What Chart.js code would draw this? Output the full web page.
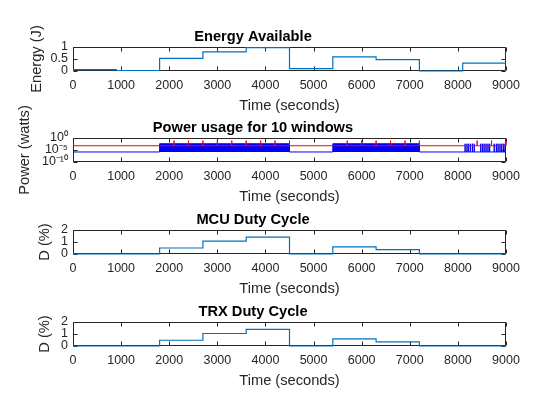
<!DOCTYPE html>
<html>
<head>
<meta charset="utf-8">
<title>Energy and duty cycle</title>
<script src="https://cdn.jsdelivr.net/npm/chart.js@4/dist/chart.umd.min.js"></script>
<style>
  html, body { margin: 0; padding: 0; background: #fff; }
  #figure { position: relative; width: 560px; height: 420px; overflow: hidden; }
  #figure canvas { position: absolute; left: 0; }
</style>
</head>
<body>
<div id="figure">
  <canvas id="energy" width="560" height="115"></canvas>
  <canvas id="power" width="560" height="115"></canvas>
  <canvas id="mcu" width="560" height="115"></canvas>
  <canvas id="trx" width="560" height="115"></canvas>
</div>
<script>
// valeurs (10 fenêtres de 900 s)
const windowStarts = [0, 900, 1800, 2700, 3600, 4500, 5400, 6300, 7200, 8100];
const timeEnd = 9000;
const timeTicks = [0, 1000, 2000, 3000, 4000, 5000, 6000, 7000, 8000, 9000];

const energyAvailable = [0.06, 0.02, 0.53, 0.8, 0.97, 0.1, 0.59, 0.47, 0, 0.33];
const mcuDuty = [0, 0, 0.5, 1.07, 1.41, 0, 0.59, 0.37, 0, 0];
const trxDuty = [0, 0, 0.48, 1.04, 1.39, 0, 0.59, 0.35, 0, 0];

const energyTicks = [0, 0.5, 1];
const dutyTicks = [0, 1, 2];
const powerTicks = [1e-10, 1e-5, 1];
const powerTickLabels = ['10⁻¹⁰', '10⁻⁵', '10⁰'];

// puissance consommée (bleu) et seuil (rouge)
const powerIdle = 1.5e-6;
const powerActive = 4e-3;
const activeWindows = [[1800, 4500], [5400, 7200]];
const burstTimes = [8150, 8190, 8225, 8265, 8305, 8340, 8475, 8510, 8545, 8585, 8625, 8660,
                    8755, 8800, 8835, 8875, 8910, 8945, 8980];
const powerLimit = 6e-4;
const limitPeak = 0.08;
const limitPeakTimes = [2100, 2400, 2700, 3000, 3300, 3600, 3900, 4200, 4500,
                        5700, 6000, 6300, 6600, 6900, 7200, 8400, 8700, 9000];

const boxTops = { energy: 47, power: 138, mcu: 230, trx: 322 };
const font = '"Liberation Sans", Arial, Helvetica, sans-serif';
const axisColor = '#262626';
const lineBlue = '#0072BD';

const stairs = (values) => {
    let pts = windowStarts.map((t, i) => ({ x: t, y: values[i] }));
    pts.push({ x: timeEnd, y: values[values.length - 1] });
    return pts;
}

const powerPoints = () => {
    let pts = [{ x: 0, y: powerIdle }];
    activeWindows.forEach(([s, e]) => {
        pts.push({ x: s, y: powerIdle }, { x: s, y: powerActive },
                 { x: e, y: powerActive }, { x: e, y: powerIdle });
    });
    burstTimes.forEach(t => {
        pts.push({ x: t, y: powerIdle }, { x: t, y: powerActive }, { x: t, y: powerIdle });
    });
    pts.push({ x: timeEnd, y: powerIdle });
    return pts;
}

const limitPoints = () => {
    let pts = [{ x: 0, y: powerLimit }];
    limitPeakTimes.forEach(t => {
        pts.push({ x: t, y: powerLimit }, { x: t, y: limitPeak }, { x: t, y: powerLimit });
    });
    pts.push({ x: timeEnd, y: powerLimit });
    return pts;
}

// cadre + graduations vers l'intérieur, comme MATLAB
const matlabAxes = {
    id: 'matlabAxes',
    beforeDatasetsDraw(chart) {
        const { ctx, chartArea: a, scales: { x, y } } = chart;
        const len = 4;
        const l = Math.round(a.left) + 0.5, r = Math.round(a.right) - 0.5;
        const t = Math.round(a.top) + 0.5, b = Math.round(a.bottom) - 0.5;
        ctx.save();
        ctx.strokeStyle = axisColor;
        ctx.lineWidth = 1;
        ctx.beginPath();
        x.ticks.forEach(tk => {
            const px = Math.round(x.getPixelForValue(tk.value)) + 0.5;
            ctx.moveTo(px, b); ctx.lineTo(px, b - len);
            ctx.moveTo(px, t); ctx.lineTo(px, t + len);
        });
        y.ticks.forEach(tk => {
            const py = Math.round(y.getPixelForValue(tk.value)) + 0.5;
            ctx.moveTo(l, py); ctx.lineTo(l + len, py);
            ctx.moveTo(r, py); ctx.lineTo(r - len, py);
        });
        ctx.rect(l, t, r - l, b - t);
        ctx.stroke();
        ctx.restore();
    }
};

const makeChart = (id, cfg) => {
    let el = document.querySelector('#' + id);
    el.style.top = (boxTops[id] - 45) + 'px';
    return new Chart(el, {
        type: 'line',
        data: { datasets: cfg.datasets },
        plugins: [matlabAxes],
        options: {
            responsive: false,
            animation: false,
            events: [],
            layout: { padding: { top: 24.4, bottom: 1, left: 0, right: 54 } },
            plugins: {
                legend: { display: false },
                tooltip: { enabled: false },
                title: {
                    display: true,
                    text: cfg.title,
                    color: '#000',
                    font: { family: font, size: 14.67, weight: 'bold', lineHeight: 1.2 },
                    padding: { top: 2, bottom: 1 }
                }
            },
            scales: {
                x: {
                    type: 'linear',
                    min: 0,
                    max: timeEnd,
                    grid: { display: false, drawTicks: false },
                    border: { display: false },
                    afterBuildTicks: (s) => { s.ticks = timeTicks.map(v => ({ value: v })); },
                    afterFit: (s) => { s.height = 45; },
                    ticks: {
                        color: axisColor,
                        padding: 7,
                        maxRotation: 0,
                        autoSkip: false,
                        font: { family: font, size: 12.5 },
                        callback: (v) => String(v)
                    },
                    title: {
                        display: true,
                        text: 'Time (seconds)',
                        color: axisColor,
                        font: { family: font, size: 14.67, lineHeight: 1.2 },
                        padding: { top: 0, bottom: 1 }
                    }
                },
                y: {
                    type: cfg.log ? 'logarithmic' : 'linear',
                    min: cfg.ticks[0],
                    max: cfg.ticks[cfg.ticks.length - 1],
                    grid: { display: false, drawTicks: false },
                    border: { display: false },
                    afterBuildTicks: (s) => { s.ticks = cfg.ticks.map(v => ({ value: v })); },
                    afterFit: (s) => { s.width = 73; },
                    ticks: {
                        color: axisColor,
                        padding: 5,
                        autoSkip: false,
                        font: { family: font, size: 12.5 },
                        callback: (v) => cfg.labels ? cfg.labels[cfg.ticks.indexOf(v)] : String(v)
                    },
                    title: {
                        display: true,
                        text: cfg.yTitle,
                        color: axisColor,
                        font: { family: font, size: 14.67, lineHeight: 1.2 },
                        padding: { top: cfg.yTitleOffset, bottom: 0 }
                    }
                }
            }
        }
    });
}

const stepLine = (values) => ({
    data: stairs(values),
    stepped: true,
    borderColor: lineBlue,
    borderWidth: 1.2,
    pointRadius: 0,
    clip: 3,
    fill: false
});

makeChart('energy', {
    title: 'Energy Available',
    yTitle: 'Energy (J)',
    yTitleOffset: 28,
    ticks: energyTicks,
    datasets: [stepLine(energyAvailable)]
});

makeChart('power', {
    title: 'Power usage for 10 windows',
    yTitle: 'Power (watts)',
    yTitleOffset: 16,
    log: true,
    ticks: powerTicks,
    labels: powerTickLabels,
    datasets: [
        {
            data: limitPoints(),
            borderColor: '#FF0000',
            borderWidth: 1,
            pointRadius: 0,
            clip: 3,
            fill: false
        },
        {
            data: powerPoints(),
            borderColor: '#0000FF',
            backgroundColor: '#0000FF',
            borderWidth: 1,
            pointRadius: 0,
            clip: 3,
            fill: { value: powerIdle }
        }
    ]
});

makeChart('mcu', {
    title: 'MCU Duty Cycle',
    yTitle: 'D (%)',
    yTitleOffset: 36,
    ticks: dutyTicks,
    datasets: [stepLine(mcuDuty)]
});

makeChart('trx', {
    title: 'TRX Duty Cycle',
    yTitle: 'D (%)',
    yTitleOffset: 36,
    ticks: dutyTicks,
    datasets: [stepLine(trxDuty)]
});
</script>
</body>
</html>
